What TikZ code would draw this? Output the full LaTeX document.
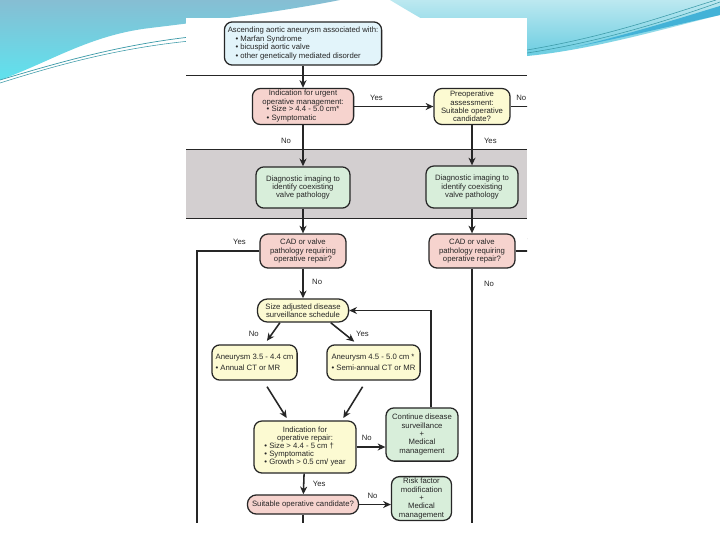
\documentclass[tikz,border=0pt]{standalone}
\usepackage{fontspec}
\setmainfont{Liberation Sans}
\usetikzlibrary{arrows.meta, positioning, calc}

\definecolor{bluebox}{HTML}{E2F4FA}
\definecolor{pinkbox}{HTML}{F6D3CE}
\definecolor{yellowbox}{HTML}{FCFAD2}
\definecolor{greenbox}{HTML}{D8EEDA}
\definecolor{band}{HTML}{D3CFD0}
\definecolor{ink}{HTML}{262626}
\definecolor{swirlA}{HTML}{86BED3}
\definecolor{swirlB}{HTML}{5FE2EE}
\definecolor{swirlC}{HTML}{BCE8F0}
\definecolor{swirlD}{HTML}{6ACDE1}
\definecolor{swirlE}{HTML}{43B2D7}
\definecolor{swirlLine}{HTML}{3C9AA8}

\begin{document}
\begin{tikzpicture}[
      x=0.025cm, y=-0.025cm,
      box/.style={rectangle, draw=ink, line width=0.9pt, rounded corners=0.2cm, align=center,
        inner sep=1pt, text=ink, font=\fontsize{5.5}{6}\selectfont},
      startbox/.style={box, fill=bluebox},
      decide/.style={box, fill=pinkbox},
      note/.style={box, fill=yellowbox},
      act/.style={box, fill=greenbox},
      arrow/.style={-{Stealth[length=5.5pt, width=5pt]}, line width=1.1pt, draw=ink},
      wire/.style={line width=1.1pt, draw=ink},
      lbl/.style={font=\fontsize{5.5}{6}\selectfont, text=ink, inner sep=1pt}
    ]
    \useasboundingbox (0,0) rectangle (720,540);
    \fill[white] (0,0) rectangle (720,540);

    % slide swooshes
    \shade[top color=swirlA, bottom color=swirlB]
      (0,0) -- (340,0) .. controls (280,12) and (200,22) .. (150,28)
      .. controls (90,35) and (50,62) .. (0,80) -- cycle;
    \draw[swirlLine, line width=0.5pt] (0,80) .. controls (60,62) and (120,45) .. (190,37);
    \draw[swirlLine, line width=0.4pt] (0,83) .. controls (60,64) and (120,48) .. (190,41);
    \shade[top color=swirlC, bottom color=swirlD]
      (390,0) -- (720,0) -- (720,15) .. controls (660,30) and (590,50) .. (527,56)
      -- (480,50) .. controls (440,30) and (410,12) .. (390,0) -- cycle;
    \fill[swirlE] (575,47) .. controls (630,36) and (680,24) .. (720,15)
      -- (720,6) .. controls (680,18) and (630,34) .. (575,47) -- cycle;
    \draw[swirlLine, line width=0.4pt] (527,53) .. controls (600,42) and (670,20) .. (720,2);
    \draw[swirlLine, line width=0.4pt] (527,50) .. controls (610,36) and (670,14) .. (716,0);

    \begin{scope}
      \clip (186,18) rectangle (527,522);
      \fill[white] (186,18) rectangle (527,522);
      \fill[band] (186,149) rectangle (527,218);
      \draw[ink, line width=0.6pt] (186,75) -- (527,75);
      \draw[ink, line width=0.6pt] (186,149) -- (527,149) (186,218) -- (527,218);

      \node[startbox, align=left, minimum width=3.93cm, minimum height=1.08cm] (orig) at (303,43.5)
        {Ascending aortic aneurysm associated with:\\\hspace{1em}• Marfan Syndrome\\\hspace{1em}• bicuspid aortic valve\\\hspace{1em}• other genetically mediated disorder};
      \node[decide, minimum width=2.53cm, minimum height=0.9cm] (urgent) at (303,106.5)
        {Indication for urgent\\operative management:\\[-1pt]\begin{tabular}{@{}l@{}}• Size > 4.4 - 5.0 cm*\\• Symptomatic\end{tabular}};
      \node[note, minimum width=1.9cm, minimum height=0.9cm] (preop) at (472,106.5)
        {Preoperative\\assessment:\\Suitable operative\\candidate?};
      \node[act, minimum width=2.35cm, minimum height=1.03cm] (img1) at (303,187.5)
        {Diagnostic imaging to\\identify coexisting\\valve pathology};
      \node[act, minimum width=2.3cm, minimum height=1.05cm] (img2) at (472,187)
        {Diagnostic imaging to\\identify coexisting\\valve pathology};
      \node[decide, minimum width=2.15cm, minimum height=0.85cm] (cad1) at (303,251)
        {CAD or valve\\pathology requiring\\operative repair?};
      \node[decide, minimum width=2.15cm, minimum height=0.85cm] (cad2) at (472,251)
        {CAD or valve\\pathology requiring\\operative repair?};
      \node[note, rounded corners=0.26cm, minimum width=2.28cm, minimum height=0.58cm] (sched) at (303,310.5)
        {Size adjusted disease\\surveillance schedule};
      \node[note, align=left, minimum width=2.13cm, minimum height=0.88cm] (small) at (254.5,362.5)
        {Aneurysm 3.5 - 4.4 cm\\[2pt]• Annual CT or MR};
      \node[note, align=left, minimum width=2.33cm, minimum height=0.88cm] (large) at (373.5,362.5)
        {Aneurysm 4.5 - 5.0 cm *\\[2pt]• Semi-annual CT or MR};
      \node[note, minimum width=2.55cm, minimum height=1.3cm] (repair) at (305,447)
        {Indication for\\operative repair:\\[-1pt]\begin{tabular}{@{}l@{}}• Size > 4.4 - 5 cm †\\• Symptomatic\\• Growth > 0.5 cm/ year\end{tabular}};
      \node[act, minimum width=1.8cm, minimum height=1.33cm] (watch) at (422,434.5)
        {Continue disease\\surveillance\\+\\Medical\\management};
      \node[decide, rounded corners=0.23cm, minimum width=2.78cm, minimum height=0.48cm] (cand) at (303,504.5)
        {Suitable operative candidate?};
      \node[act, minimum width=1.5cm, minimum height=1.08cm] (riskmod) at (421.5,498.5)
        {Risk factor\\modification\\+\\Medical\\management};

      \coordinate (noP) at (540,106.5);
      \coordinate (yesL) at (197,530);
      \coordinate (yesR) at (540,251);
      \coordinate (noR) at (472,530);
      \coordinate (back) at (431,310.5);
      \coordinate (down) at (303,530);

      \draw[arrow] (orig) -- (urgent);
      \draw[arrow] (urgent) -- node[lbl, above=3pt, pos=0.28] {Yes} (preop);
      \draw[wire] (preop) -- node[lbl, above=3pt, pos=0.36] {No} (noP);
      \draw[arrow] (urgent) -- node[lbl, left=7pt, pos=0.38] {No} (img1);
      \draw[arrow] (preop) -- node[lbl, right=7pt, pos=0.38] {Yes} (img2);
      \draw[arrow] (img1) -- (cad1);
      \draw[arrow] (img2) -- (cad2);
      \draw[wire] (cad1.west) -| node[lbl, above=3pt, pos=0.16] {Yes} (yesL);
      \draw[wire] (cad2) -- node[lbl, above=3pt, pos=0.75] {Yes} (yesR);
      \draw[wire] (cad2) -- node[lbl, right=7pt, pos=0.06] {No} (noR);
      \draw[arrow] (cad1) -- node[lbl, right=5pt, pos=0.45] {No} (sched);
      \draw[arrow, shorten >=3pt] ($(sched.south)!0.5!(sched.south west)$) -- node[lbl, left=8pt] {No} ([xshift=0.25cm]small.north);
      \draw[arrow, shorten >=3pt] ($(sched.south)!0.6!(sched.south east)$) -- node[lbl, right=7pt] {Yes} ([xshift=-0.4cm]large.north);
      \draw[arrow, shorten <=5pt, shorten >=2pt] ([xshift=0.22cm]small.south) -- ([xshift=-0.42cm]repair.north);
      \draw[arrow, shorten <=5pt, shorten >=2pt] ([xshift=-0.18cm]large.south) -- ([xshift=0.92cm]repair.north);
      \draw[arrow] (repair.east) -- node[lbl, above=3pt, pos=0.35] {No} (repair.east -| watch.west);
      \draw[arrow] (watch.north -| back) -- (back) -- (sched.east);
      \draw[arrow] (repair) -- node[lbl, right=5pt, pos=0.5] {Yes} (cand);
      \draw[arrow] (cand.east) -- node[lbl, above=3pt, pos=0.42] {No} (cand.east -| riskmod.west);
      \draw[wire] (cand) -- (down);
    \end{scope}
  \end{tikzpicture}
\end{document}
